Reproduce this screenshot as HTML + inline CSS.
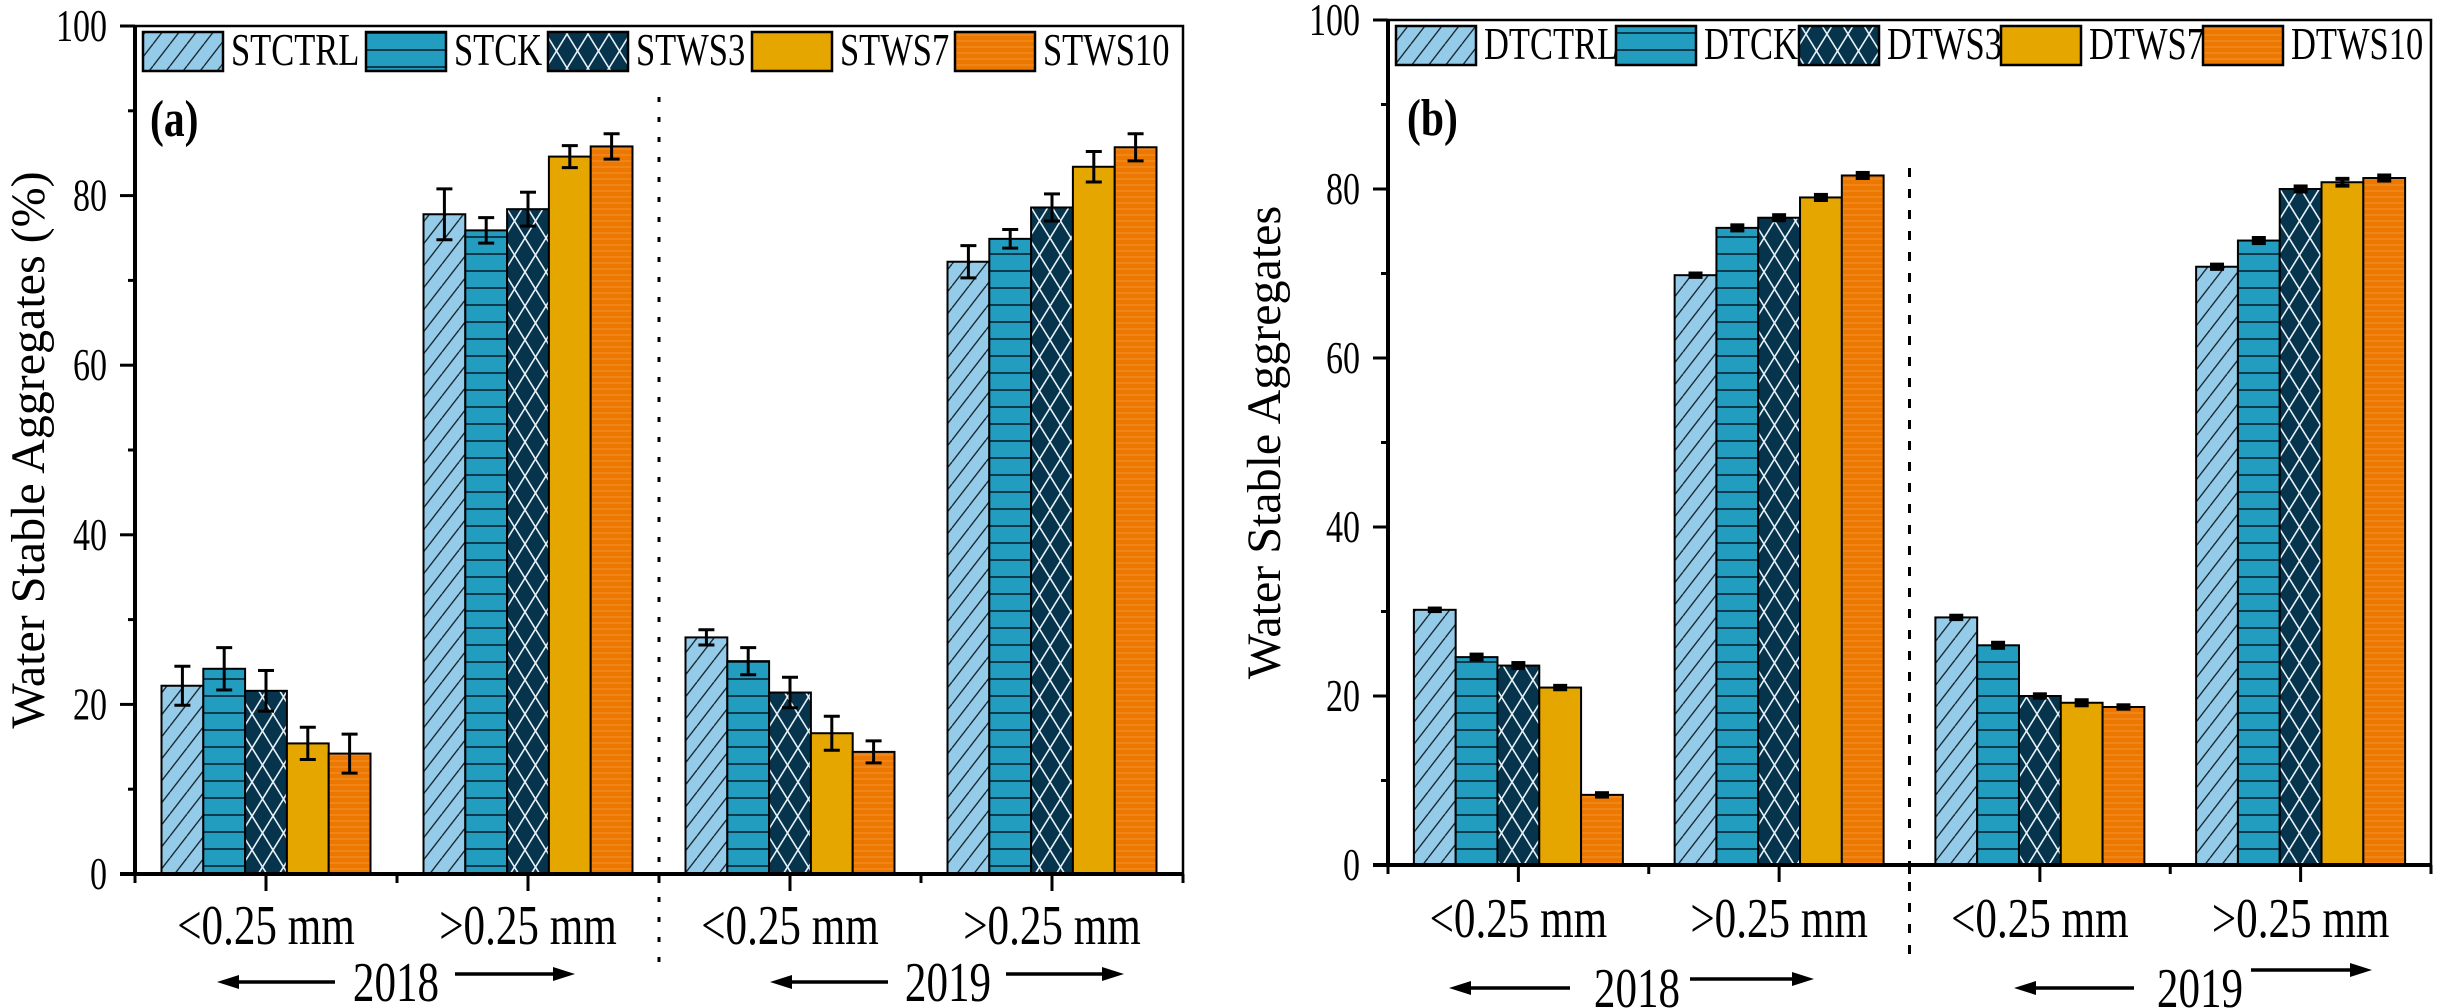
<!DOCTYPE html>
<html><head><meta charset="utf-8"><style>
html,body{margin:0;padding:0;background:#fff;}
svg{display:block;font-family:"Liberation Serif","DejaVu Serif",serif;}
</style></head><body>
<svg id="chart" width="2439" height="1008" viewBox="0 0 2439 1008" xmlns="http://www.w3.org/2000/svg">
<defs>
<pattern id="p-ctrl" patternUnits="userSpaceOnUse" width="17" height="22"><rect width="17" height="22" fill="#94cbe8"/><line x1="0" y1="22" x2="17" y2="0" stroke="#1c2a33" stroke-width="1.4"/><line x1="-17" y1="22" x2="0" y2="0" stroke="#1c2a33" stroke-width="1.4"/><line x1="17" y1="22" x2="34" y2="0" stroke="#1c2a33" stroke-width="1.4"/></pattern>
<pattern id="p-ck" patternUnits="userSpaceOnUse" width="20" height="17"><rect width="20" height="17" fill="#229dc0"/><line x1="0" y1="16" x2="20" y2="16" stroke="#0d3a4c" stroke-width="2"/></pattern>
<pattern id="p-ws3" patternUnits="userSpaceOnUse" width="21" height="34"><rect width="21" height="34" fill="#07344d"/><line x1="0" y1="0" x2="21" y2="34" stroke="#e8f2f8" stroke-width="1.6"/><line x1="21" y1="0" x2="0" y2="34" stroke="#e8f2f8" stroke-width="1.6"/></pattern>
<pattern id="p-ws7" patternUnits="userSpaceOnUse" width="10" height="10"><rect width="10" height="10" fill="#e5a600"/></pattern>
<pattern id="p-ws10" patternUnits="userSpaceOnUse" width="10" height="6"><rect width="10" height="6" fill="#ed7800"/><line x1="0" y1="5" x2="10" y2="5" stroke="#f59a40" stroke-width="0.8"/></pattern>
</defs>
<g id="root"></g>
</svg>
<script>
// ---- data (panel a) ----
const catsA = ["<0.25 mm", ">0.25 mm", "<0.25 mm", ">0.25 mm"];
const seriesA = ["STCTRL", "STCK", "STWS3", "STWS7", "STWS10"];
const valsA_CTRL = [22.2, 77.8, 27.9, 72.2];
const valsA_CK   = [24.2, 75.9, 25.1, 74.9];
const valsA_WS3  = [21.6, 78.4, 21.4, 78.6];
const valsA_WS7  = [15.4, 84.6, 16.6, 83.4];
const valsA_WS10 = [14.2, 85.8, 14.4, 85.7];
const errA_CTRL = [2.3, 3.0, 0.9, 1.9];
const errA_CK   = [2.5, 1.5, 1.6, 1.1];
const errA_WS3  = [2.4, 2.0, 1.8, 1.6];
const errA_WS7  = [1.9, 1.3, 2.0, 1.8];
const errA_WS10 = [2.3, 1.5, 1.3, 1.6];
// ---- data (panel b) ----
const catsB = ["<0.25 mm", ">0.25 mm", "<0.25 mm", ">0.25 mm"];
const seriesB = ["DTCTRL", "DTCK", "DTWS3", "DTWS7", "DTWS10"];
const valsB_CTRL = [30.2, 69.8, 29.3, 70.8];
const valsB_CK   = [24.6, 75.4, 26.0, 73.9];
const valsB_WS3  = [23.6, 76.6, 20.0, 80.0];
const valsB_WS7  = [21.0, 79.0, 19.2, 80.8];
const valsB_WS10 = [8.3, 81.6, 18.7, 81.3];
const errB_CTRL = [0.15, 0.2, 0.2, 0.25];
const errB_CK   = [0.3, 0.3, 0.3, 0.3];
const errB_WS3  = [0.3, 0.3, 0.2, 0.3];
const errB_WS7  = [0.2, 0.3, 0.3, 0.4];
const errB_WS10 = [0.2, 0.3, 0.2, 0.3];
const yTicks = [0, 20, 40, 60, 80, 100];
const years = ["2018", "2019"];

const NS = "http://www.w3.org/2000/svg";
const root = document.getElementById("root");
function mk(tag, attrs, parent) {
  const e = document.createElementNS(NS, tag);
  for (const k in attrs) e.setAttribute(k, attrs[k]);
  (parent || root).appendChild(e);
  return e;
}
// condensed text: larger font squeezed horizontally
function txt(parent, x, y, str, size, anchor, sx, weight) {
  const t = mk("text", {x: 0, y: 0, "text-anchor": anchor, "font-size": size, transform: `translate(${x},${y}) scale(${sx},1)`}, parent);
  if (weight) t.setAttribute("font-weight", weight);
  t.textContent = str;
  return t;
}
const fills = ["url(#p-ctrl)", "url(#p-ck)", "url(#p-ws3)", "url(#p-ws7)", "url(#p-ws10)"];
const SX = 0.74;

function drawPanel(P) {
  const g = mk("g", {});
  
  
  const xs = v => P.left + (v - 0.5) * P.unit;
  const ys = v => P.y0 - v * (P.y0 - P.y100) / 100;
  const bw = 41.8;
  P.vals.forEach((arr, s) => {
    arr.forEach((v, i) => {
      const cx = xs(i + 1) + (s - 2) * bw;
      const r = mk("rect", {x: cx - bw / 2, y: ys(v), width: bw, height: ys(0) - ys(v), fill: fills[s], stroke: "#000", "stroke-width": 2}, g);
      
      
      const e = P.errs[s][i];
      const eg = mk("g", {stroke: "#000", "stroke-width": P.id === "a" ? 3 : 4, fill: "none"}, g);
      
      
      const cw = P.id === "a" ? 8 : 7;
      mk("line", {x1: cx, x2: cx, y1: ys(v + e), y2: ys(v - e)}, eg);
      mk("line", {x1: cx - cw, x2: cx + cw, y1: ys(v + e), y2: ys(v + e)}, eg);
      mk("line", {x1: cx - cw, x2: cx + cw, y1: ys(v - e), y2: ys(v - e)}, eg);
    });
  });
  const fr = mk("rect", {x: P.left, y: P.y100, width: P.right - P.left, height: P.y0 - P.y100, fill: "none", stroke: "#000", "stroke-width": 2.5}, g);
  
  
  const xa = mk("line", {x1: P.left - 15, x2: P.right, y1: P.y0, y2: P.y0, stroke: "#000", "stroke-width": 4}, g);
  
  
  const ya = mk("line", {x1: P.left, x2: P.left, y1: P.y100, y2: P.y0, stroke: "#000", "stroke-width": 4}, g);
  
  
  yTicks.forEach(t => {
    mk("line", {x1: P.left - 15, x2: P.left, y1: ys(t), y2: ys(t), stroke: "#000", "stroke-width": 3}, g);
    if (t < 100) mk("line", {x1: P.left - 7, x2: P.left, y1: ys(t + 10), y2: ys(t + 10), stroke: "#000", "stroke-width": 3}, g);
    const tl = txt(g, P.left - 28, ys(t) + 15, String(t), 46, "end", SX);
    
    
  });
  P.cats.forEach((c, i) => {
    const x = xs(i + 1);
    mk("line", {x1: x, x2: x, y1: P.y0, y2: P.y0 + 17, stroke: "#000", "stroke-width": 3}, g);
    mk("line", {x1: xs(i + 0.5), x2: xs(i + 0.5), y1: P.y0, y2: P.y0 + 9, stroke: "#000", "stroke-width": 3}, g);
    const tl = txt(g, x, P.catY, c, 56, "middle", 0.77);
    
    
  });
  mk("line", {x1: xs(4.5), x2: xs(4.5), y1: P.y0, y2: P.y0 + 9, stroke: "#000", "stroke-width": 3}, g);
  const dv = mk("line", {x1: xs(2.5), x2: xs(2.5), y1: P.divTop, y2: 962, stroke: "#000", "stroke-width": 3, "stroke-dasharray": P.dash}, g);
  
  
  years.forEach((yr, k) => {
    const yg = mk("g", {}, g);
    
    
    const Y = P.yearPos[k];
    txt(yg, Y.tx, Y.ty, yr, 56, "middle", 0.77);
    mk("line", {x1: Y.l0 + 18, x2: Y.l1, y1: Y.ly, y2: Y.ly, stroke: "#000", "stroke-width": 3.5}, yg);
    mk("polygon", {points: `${Y.l0},${Y.ly} ${Y.l0 + 22},${Y.ly - 7} ${Y.l0 + 22},${Y.ly + 7}`, fill: "#000"}, yg);
    mk("line", {x1: Y.r0, x2: Y.r1 - 18, y1: Y.ry, y2: Y.ry, stroke: "#000", "stroke-width": 3.5}, yg);
    mk("polygon", {points: `${Y.r1},${Y.ry} ${Y.r1 - 22},${Y.ry - 7} ${Y.r1 - 22},${Y.ry + 7}`, fill: "#000"}, yg);
  });
  P.series.forEach((s, k) => {
    const lg = mk("g", {}, g);
    
    
    mk("rect", {x: P.legX[k], y: P.legY, width: 80, height: 39, fill: fills[k], stroke: "#000", "stroke-width": 2.5}, lg);
    txt(lg, P.legX[k] + 88, P.legY + 33, s, 46, "start", 0.75);
  });
  const pl = txt(g, P.letter[0], P.letter[1], "(" + P.id + ")", 52, "start", 0.8, "bold");
  
  
  const yt = mk("text", {x: 0, y: 0, "text-anchor": "middle", "font-size": 48, transform: `translate(${P.titleX},${(P.y0 + P.y100) / 2}) rotate(-90)`}, g);
  yt.textContent = P.title;
  
  
}

drawPanel({
  id: "a", left: 135, right: 1183, unit: 262, y100: 26, y0: 874,
  cats: catsA, series: seriesA,
  vals: [valsA_CTRL, valsA_CK, valsA_WS3, valsA_WS7, valsA_WS10],
  errs: [errA_CTRL, errA_CK, errA_WS3, errA_WS7, errA_WS10],
  divTop: 97, dash: "5 15", catY: 944,
  legX: [143, 366, 548, 752, 955], legY: 32,
  letter: [150, 136], titleX: 44,
  title: "Water Stable Aggregates (%)",
  yearPos: [
    {tx: 396, ty: 1001, l0: 217, l1: 335, ly: 982, r0: 455, r1: 575, ry: 974},
    {tx: 948, ty: 1001, l0: 770, l1: 888, ly: 982, r0: 1006, r1: 1124, ry: 974}
  ]
});
drawPanel({
  id: "b", left: 1388, right: 2431, unit: 260.75, y100: 20, y0: 865,
  cats: catsB, series: seriesB,
  vals: [valsB_CTRL, valsB_CK, valsB_WS3, valsB_WS7, valsB_WS10],
  errs: [errB_CTRL, errB_CK, errB_WS3, errB_WS7, errB_WS10],
  divTop: 168, dash: "9 12", catY: 937,
  legX: [1396, 1616, 1799, 2001, 2203], legY: 26,
  letter: [1407, 135], titleX: 1280,
  title: "Water Stable Aggregates",
  yearPos: [
    {tx: 1637, ty: 1007, l0: 1449, l1: 1570, ly: 988, r0: 1690, r1: 1814, ry: 979},
    {tx: 2200, ty: 1007, l0: 2014, l1: 2134, ly: 988, r0: 2251, r1: 2372, ry: 970}
  ]
});
</script>
</body></html>
